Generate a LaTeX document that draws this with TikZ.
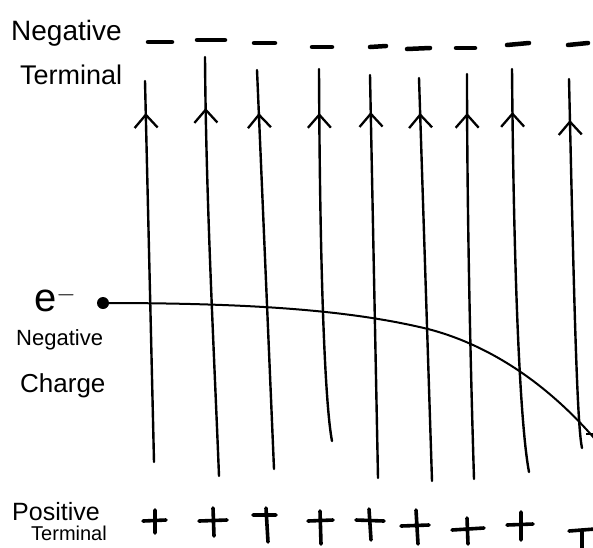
\documentclass[tikz,border=0pt]{standalone}
\usepackage{fontspec}
\setmainfont{Liberation Sans}
\usetikzlibrary{arrows.meta,decorations.markings}
\begin{document}
\begin{tikzpicture}[x=1pt,y=-1pt,
  fieldline/.style={line width=2.4pt, line cap=round, postaction={decorate},
    decoration={markings, mark=at position #1 with {\arrow{Straight Barb[length=13pt,width=23pt,line width=2.3pt]}}}},
  charge/.style={line width=4.5pt, line cap=round},
  plusmark/.style={line width=3.6pt, line cap=round},
  pathline/.style={line width=2pt},
  lab/.style={anchor=base west, inner sep=0pt, font=\fontsize{#1}{#1}\selectfont},
  lab/.default=24]
\useasboundingbox (0,0) rectangle (593,547);
\clip (0,0) rectangle (593,547);
% labels
\node[lab=28] (ntA) at (11,40) {Negative};
\node[lab=27] (ntB) at (20,84) {Terminal};
\node[lab=40] (el) at (34,311) {e$^{-}$};
\node[lab=22] (ncA) at (16,345) {Negative};
\node[lab=26] (ncB) at (20,392) {Charge};
\node[lab=25] (ptA) at (12,520) {Positive};
\node[lab=20] (ptB) at (31,540) {Terminal};
% negative terminal marks
\draw[charge] (148,42) -- (172,42);
\draw[charge] (197,40) -- (225,40);
\draw[charge] (254,43) -- (275,43);
\draw[charge] (312,47) -- (332,47);
\draw[charge] (370,47) -- (386,46);
\draw[charge] (407,49) -- (430,48);
\draw[charge] (456,48) -- (475,48);
\draw[charge] (507,45) -- (529,43);
\draw[charge] (568,45) -- (588,43);
% field line ends
\coordinate (b1) at (154,462); \coordinate (t1) at (145,81);
\coordinate (b2) at (219,476); \coordinate (t2) at (205,57);
\coordinate (b3) at (274,469); \coordinate (t3) at (257,70);
\coordinate (b4) at (332,441); \coordinate (t4) at (319,69);
\coordinate (b5) at (378,478); \coordinate (t5) at (370,75);
\coordinate (b6) at (432,481); \coordinate (t6) at (419,78);
\coordinate (b7) at (474,479); \coordinate (t7) at (467,74);
\coordinate (b8) at (529,472); \coordinate (t8) at (512,69);
\coordinate (b9) at (582,448); \coordinate (t9) at (569,79);
\draw[fieldline=-32pt] (b1) -- (t1);
\draw[fieldline=-51pt] (b2) .. controls (214,350) and (206,200) .. (t2);
\draw[fieldline=-43pt] (b3) -- (t3);
\draw[fieldline=-44pt] (b4) .. controls (326,410) and (320,300) .. (t4);
\draw[fieldline=-37pt] (b5) -- (t5);
\draw[fieldline=-35pt] (b6) -- (t6);
\draw[fieldline=-39pt] (b7) .. controls (470,350) and (467,200) .. (t7);
\draw[fieldline=-43pt] (b8) .. controls (521,430) and (514,300) .. (t8);
\draw[fieldline=-41pt] (b9) .. controls (577,425) and (574,300) .. (t9);
% electron
\node[circle, fill=black, inner sep=0pt, minimum size=12pt] (e) at (103,303) {};
\coordinate (eend) at (600,445);
\coordinate (emid) at (428,329);
\draw[pathline] (e.center) .. controls (250,303) and (350,310) .. (emid)
  .. controls (490,345) and (550,385) .. (eend);
\draw[pathline] (586,434) -- (594,434);
% positive terminal marks
\draw[plusmark] (143,521) -- (166,520) (155,510) -- (155,533);
\draw[plusmark] (199,521) -- (227,520) (213,508) -- (214,536);
\draw[plusmark] (253,515) -- (276,515) (266,508) -- (268,542);
\draw[plusmark] (308,521) -- (333,520) (320,511) -- (321,544);
\draw[plusmark] (356,520) -- (384,521) (369,509) -- (371,540);
\draw[plusmark] (401,526) -- (429,525) (416,510) -- (418,544);
\draw[plusmark] (452,530) -- (484,528) (467,518) -- (468,544);
\draw[plusmark] (507,525) -- (533,524) (521,512) -- (521,540);
\draw[plusmark] (569,531) -- (595,529) (582,531) -- (582,552);
\end{tikzpicture}
\end{document}
